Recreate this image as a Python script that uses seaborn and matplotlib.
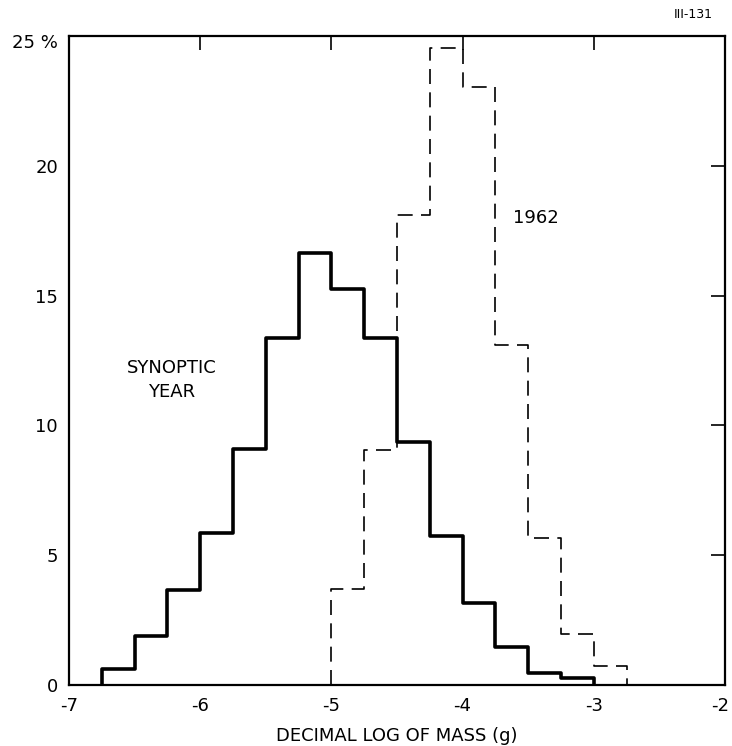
import numpy as np
import pandas as pd
import matplotlib
matplotlib.use("Agg")
import matplotlib.pyplot as plt
import matplotlib.transforms as mtransforms
import seaborn as sns

# ---- data ----
synoptic_edges = [-6.75, -6.5, -6.25, -6.0, -5.75, -5.5, -5.25, -5.0, -4.75,
                  -4.5, -4.25, -4.0, -3.75, -3.5, -3.25, -3.0]
synoptic_pct = [0.6, 1.9, 3.65, 5.85, 9.1, 13.35, 16.65, 15.25, 13.35,
                9.35, 5.75, 3.15, 1.45, 0.45, 0.25]

y1962_edges = [-5.0, -4.75, -4.5, -4.25, -4.0, -3.75, -3.5, -3.25, -3.0, -2.75]
y1962_pct = [3.7, 9.05, 18.1, 24.55, 23.05, 13.1, 5.65, 1.95, 0.75]

xticks = [-7, -6, -5, -4, -3, -2]
xticklabels = ["-7", "-6", "-5", "-4", "-3", "-2"]
yticks = [0, 5, 10, 15, 20, 25]
yticklabels = ["0", "5", "10", "15", "20", "25 %"]

sns.set_style("white")
plt.rcParams['font.family'] = ['DejaVu Sans']
plt.rcParams['text.color'] = 'black'
plt.rcParams['axes.labelcolor'] = 'black'

fig = plt.figure(figsize=(7.32, 7.46), dpi=100)
ax = fig.add_axes([0.0943, 0.0818, 0.8961, 0.8699])


def outline(edges, pct):
    # closed step outline: rise from 0 at first edge, fall to 0 at last edge
    xs = [edges[0]] + list(edges)
    ys = [0.0] + list(pct) + [0.0]
    return pd.DataFrame({"x": xs, "y": ys})


syn = outline(synoptic_edges, synoptic_pct)
y62 = outline(y1962_edges, y1962_pct)

sns.lineplot(data=syn, x="x", y="y", sort=False, estimator=None,
             drawstyle="steps-post", color="black", linewidth=2.6, ax=ax)
sns.lineplot(data=y62, x="x", y="y", sort=False, estimator=None,
             drawstyle="steps-post", color="black", linewidth=1.2,
             dashes=False, ax=ax)
ax.lines[-1].set_linestyle((0, (9, 5)))

ax.set_xlim(-7, -2)
ax.set_ylim(0, 25)
ax.set_xticks(xticks)
ax.set_xticklabels(xticklabels)
ax.set_yticks(yticks)
ax.set_yticklabels(yticklabels)
ax.tick_params(direction="in", length=10, width=1.2, top=True, right=True,
               labelsize=13, colors="black")
ax.tick_params(axis="y", pad=8)
ax.tick_params(axis="x", pad=9)
for s in ax.spines.values():
    s.set_visible(True)
    s.set_color("black")
    s.set_linewidth(1.6)

# small nudges so edge labels sit as in the reference
xl = ax.get_xticklabels()
xl[-1].set_transform(xl[-1].get_transform() +
                     mtransforms.ScaledTranslation(-5 / 100, 0, fig.dpi_scale_trans))
yl = ax.get_yticklabels()
yl[-1].set_transform(yl[-1].get_transform() +
                     mtransforms.ScaledTranslation(0, -5 / 100, fig.dpi_scale_trans))

ax.set_ylabel("")
ax.set_xlabel("DECIMAL LOG OF MASS (g)", fontsize=13, labelpad=8)

ax.text(-3.44, 18.0, "1962", fontsize=13, ha="center", va="center")
ax.text(-6.215, 11.75, "SYNOPTIC\nYEAR", fontsize=13, ha="center", va="center",
        linespacing=1.45)
fig.text(693 / 732, 1 - 15 / 746, "III-131", fontsize=9, ha="center", va="center")

fig.savefig("out.png", dpi=100)
